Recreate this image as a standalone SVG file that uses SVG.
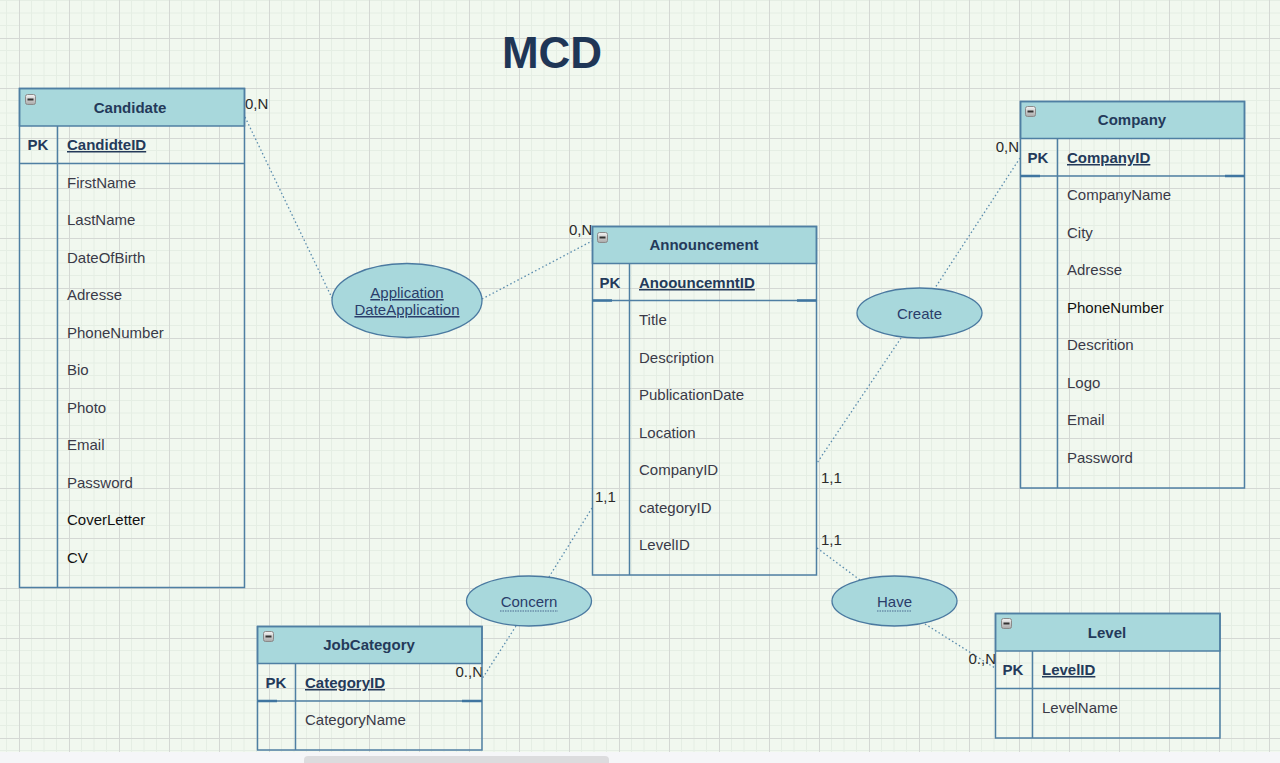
<svg xmlns="http://www.w3.org/2000/svg" width="1280" height="763" viewBox="0 0 1280 763">
<defs>
<pattern id="grid" x="19" y="38" width="50" height="50" patternUnits="userSpaceOnUse">
<path d="M12.5 0V50M25 0V50M37.5 0V50M0 12.5H50M0 25H50M0 37.5H50" stroke="#e5eee4" stroke-width="1" fill="none"/>
<path d="M0.5 0V50M0 0.5H50" stroke="#d4d8d4" stroke-width="1" fill="none"/>
</pattern>
<linearGradient id="ig" x1="0" y1="0" x2="0" y2="1">
<stop offset="0" stop-color="#f4f4f4"/><stop offset="1" stop-color="#a8a8a8"/>
</linearGradient>
<g id="icon">
<rect x="0.5" y="0.5" width="10" height="10" rx="2" fill="url(#ig)" stroke="#8a8a8a"/>
<rect x="2.5" y="4.5" width="6" height="2" fill="#333"/>
</g>
</defs>
<style>
.box{fill:none;stroke:#4f7fa3;stroke-width:1.5}
.hdr{fill:#a8d8dc;stroke:#4f7fa3;stroke-width:1.5}
.ln{stroke:#4f7fa3;stroke-width:1.5;fill:none}
.sep{stroke:#3f75a0;stroke-width:2.5}
.ht{font-family:"Liberation Sans",Arial,sans-serif;font-size:15px;font-weight:bold;fill:#243a5a;text-anchor:middle}
.pk{font-family:"Liberation Sans",Arial,sans-serif;font-size:15px;font-weight:bold;fill:#243a5a;text-anchor:middle}
.key{font-family:"Liberation Sans",Arial,sans-serif;font-size:15px;font-weight:bold;fill:#243a5a;text-decoration:underline}
.at{font-family:"Liberation Sans",Arial,sans-serif;font-size:15px;fill:#3a3a48}
.bk{fill:#111}
.ell{fill:#a8d8dc;stroke:#4a79a0;stroke-width:1.3}
.et{font-family:"Liberation Sans",Arial,sans-serif;font-size:15px;fill:#2a3d6a;text-anchor:middle}
.con{stroke:#5a8cae;stroke-width:1.3;stroke-dasharray:1.5 2.5;fill:none}
.card{font-family:"Liberation Sans",Arial,sans-serif;font-size:15px;fill:#2a2a2a}
.dot{stroke:#4a6a90;stroke-width:1.2;stroke-dasharray:1.5 1}
</style>
<rect width="1280" height="763" fill="#f1f8ef"/>
<rect width="1280" height="752" fill="url(#grid)"/>
<rect x="0" y="752" width="1280" height="11" fill="#f5f6f8"/>
<rect x="304" y="756" width="305" height="10" rx="4" fill="#dcdcde"/>

<text x="552" y="68" font-family="'Liberation Sans',Arial,sans-serif" font-size="44" font-weight="bold" fill="#1f3656" text-anchor="middle">MCD</text>

<g id="connectors">
<path class="con" d="M245 117L332 298"/>
<path class="con" d="M482 299L592 241"/>
<path class="con" d="M1020 158L935 288"/>
<path class="con" d="M901 338L817 463"/>
<path class="con" d="M592 508L549 577"/>
<path class="con" d="M516 626L482 679"/>
<path class="con" d="M817 548L860 580"/>
<path class="con" d="M925 624L995 668"/>
<text class="card" x="245" y="109">0,N</text>
<text class="card" x="569" y="235">0,N</text>
<text class="card" x="1019" y="152" text-anchor="end">0,N</text>
<text class="card" x="821" y="483">1,1</text>
<text class="card" x="595" y="502">1,1</text>
<text class="card" x="483" y="677" text-anchor="end">0.,N</text>
<text class="card" x="821" y="545">1,1</text>
<text class="card" x="996" y="664" text-anchor="end">0.,N</text>
</g>

<g id="candidate">
<rect class="hdr" x="19.5" y="88.5" width="225" height="37.5"/>
<rect class="box" x="19.5" y="88.5" width="225" height="499"/>
<path class="ln" d="M19.5 163.5H244.5M57.5 126V587.5"/>
<use href="#icon" x="25" y="94"/>
<text class="ht" x="130" y="113">Candidate</text>
<text class="pk" x="38" y="150">PK</text>
<text class="key" x="67" y="150">CandidteID</text>
<text class="at" x="67" y="188">FirstName</text>
<text class="at" x="67" y="225">LastName</text>
<text class="at" x="67" y="263">DateOfBirth</text>
<text class="at" x="67" y="300">Adresse</text>
<text class="at" x="67" y="338">PhoneNumber</text>
<text class="at" x="67" y="375">Bio</text>
<text class="at" x="67" y="413">Photo</text>
<text class="at" x="67" y="450">Email</text>
<text class="at" x="67" y="488">Password</text>
<text class="at bk" x="67" y="525">CoverLetter</text>
<text class="at bk" x="67" y="563">CV</text>
</g>

<g id="announcement">
<rect class="hdr" x="592.5" y="226.5" width="224" height="37"/>
<rect class="box" x="592.5" y="226.5" width="224" height="348.5"/>
<path class="ln" d="M592.5 300.5H816.5M629.5 263.5V575"/>
<path class="sep" d="M592.5 300.5H612M797 300.5H816.5"/>
<use href="#icon" x="597" y="232"/>
<text class="ht" x="704" y="250">Announcement</text>
<text class="pk" x="610" y="288">PK</text>
<text class="key" x="639" y="288">AnoouncemntID</text>
<text class="at" x="639" y="325">Title</text>
<text class="at" x="639" y="363">Description</text>
<text class="at" x="639" y="400">PublicationDate</text>
<text class="at" x="639" y="438">Location</text>
<text class="at" x="639" y="475">CompanyID</text>
<text class="at" x="639" y="513">categoryID</text>
<text class="at" x="639" y="550">LevelID</text>
</g>

<g id="company">
<rect class="hdr" x="1020.5" y="101.5" width="224" height="37"/>
<rect class="box" x="1020.5" y="101.5" width="224" height="386.5"/>
<path class="ln" d="M1020.5 176H1244.5M1057.5 138.5V488"/>
<path class="sep" d="M1020.5 176H1040M1225 176H1244.5"/>
<use href="#icon" x="1025" y="106"/>
<text class="ht" x="1132" y="125">Company</text>
<text class="pk" x="1038" y="163">PK</text>
<text class="key" x="1067" y="163">CompanyID</text>
<text class="at" x="1067" y="200">CompanyName</text>
<text class="at" x="1067" y="238">City</text>
<text class="at" x="1067" y="275">Adresse</text>
<text class="at bk" x="1067" y="313">PhoneNumber</text>
<text class="at" x="1067" y="350">Descrition</text>
<text class="at" x="1067" y="388">Logo</text>
<text class="at" x="1067" y="425">Email</text>
<text class="at" x="1067" y="463">Password</text>
</g>

<g id="jobcategory">
<rect class="hdr" x="257.5" y="626.5" width="224.5" height="37"/>
<rect class="box" x="257.5" y="626.5" width="224.5" height="123.5"/>
<path class="ln" d="M257.5 701H482M295.5 663.5V750"/>
<path class="sep" d="M257.5 701H277M462 701H482"/>
<use href="#icon" x="263" y="631"/>
<text class="ht" x="369" y="650">JobCategory</text>
<text class="pk" x="276" y="688">PK</text>
<text class="key" x="305" y="688">CategoryID</text>
<text class="at" x="305" y="725">CategoryName</text>
</g>

<g id="level">
<rect class="hdr" x="995.5" y="613.5" width="224.5" height="37.5"/>
<rect class="box" x="995.5" y="613.5" width="224.5" height="124.5"/>
<path class="ln" d="M995.5 688.5H1220M1032.5 651V738"/>
<use href="#icon" x="1001" y="618"/>
<text class="ht" x="1107" y="638">Level</text>
<text class="pk" x="1013" y="675">PK</text>
<text class="key" x="1042" y="675">LevelID</text>
<text class="at" x="1042" y="713">LevelName</text>
</g>

<g id="application">
<ellipse class="ell" cx="407" cy="300.5" rx="75" ry="37"/>
<text class="et" x="407" y="298" text-decoration="underline">Application</text>
<text class="et" x="407" y="315" text-decoration="underline">DateApplication</text>
</g>
<g id="create">
<ellipse class="ell" cx="919.5" cy="313" rx="62.5" ry="25"/>
<text class="et" x="919.5" y="319">Create</text>
</g>
<g id="concern">
<ellipse class="ell" cx="529" cy="601" rx="62.5" ry="25"/>
<text class="et" x="529" y="607">Concern</text>
<path class="dot" d="M500 611H558"/>
</g>
<g id="have">
<ellipse class="ell" cx="894.5" cy="601" rx="62.5" ry="25"/>
<text class="et" x="894.5" y="607">Have</text>
<path class="dot" d="M877 611H912"/>
</g>
</svg>
